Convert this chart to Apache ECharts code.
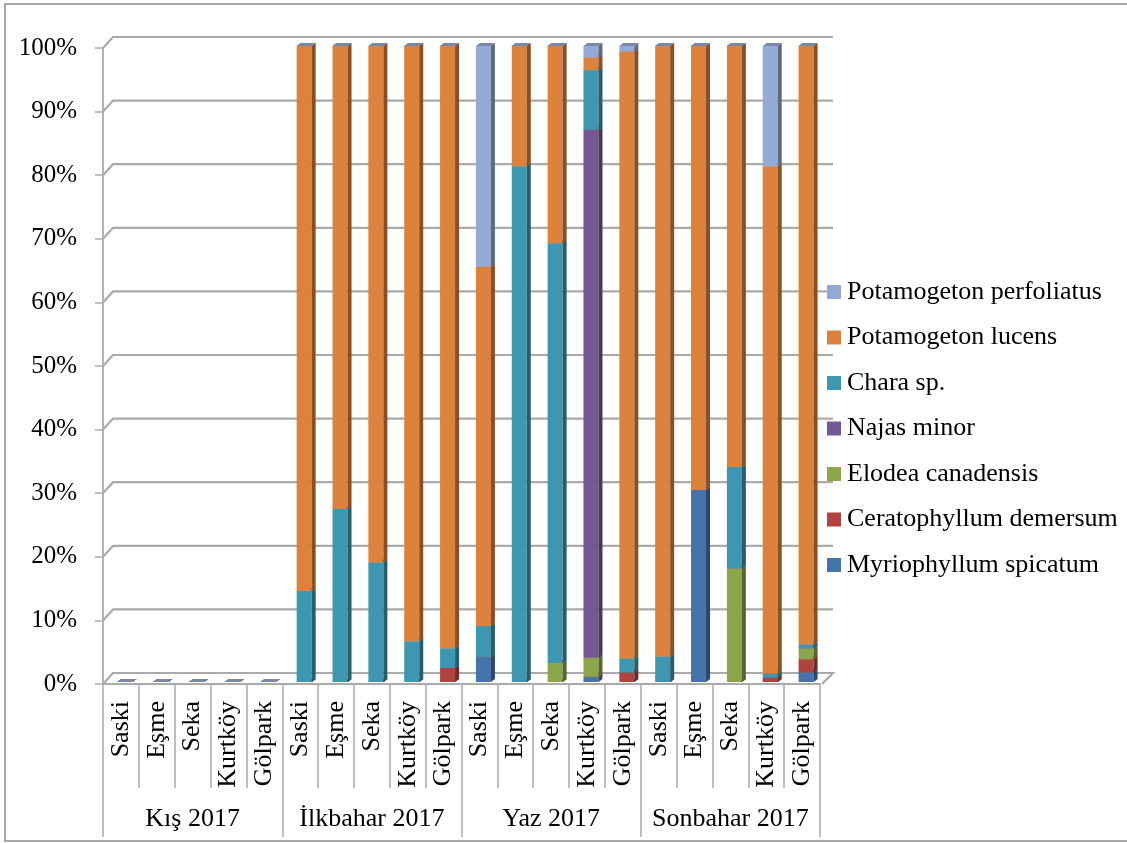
<!DOCTYPE html>
<html>
<head>
<meta charset="utf-8">
<script src="https://cdn.jsdelivr.net/npm/echarts@6/dist/echarts.min.js"></script>
<style>
  html, body { margin: 0; padding: 0; background: #ffffff; }
  #chart { width: 1127px; height: 843px; }
</style>
</head>
<body>
<div id="chart"></div>
<script>
// Sampling stations, repeated for every season
const sites = ['Saski', 'Eşme', 'Seka', 'Kurtköy', 'Gölpark'];
const seasons = ['Kış 2017', 'İlkbahar 2017', 'Yaz 2017', 'Sonbahar 2017'];
const categories = [].concat(sites, sites, sites, sites);
const yTicks = [0, 10, 20, 30, 40, 50, 60, 70, 80, 90, 100];

// Relative share (%) of each species per station, stacked bottom to top
const myriophyllum = [0, 0, 0, 0, 0, 0, 0, 0, 0, 0, 3.9, 0, 0, 0.8, 0, 0, 30.2, 0, 0, 1.5];
const ceratophyllum = [0, 0, 0, 0, 0, 0, 0, 0, 0, 2.2, 0, 0, 0, 0, 1.5, 0, 0, 0, 0.7, 2.1];
const elodea = [0, 0, 0, 0, 0, 0, 0, 0, 0, 0, 0, 0, 3.0, 3.0, 0, 0, 0, 17.9, 0, 1.7];
const najas = [0, 0, 0, 0, 0, 0, 0, 0, 0, 0, 0, 0, 0, 83.0, 0, 0, 0, 0, 0, 0];
const chara = [0, 0, 0, 0, 0, 14.3, 27.2, 18.8, 6.4, 3.1, 4.9, 81.1, 66.0, 9.4, 2.2, 4.0, 0, 15.9, 0.6, 0.6];
const lucens = [0, 0, 0, 0, 0, 85.7, 72.8, 81.2, 93.6, 94.7, 56.5, 18.9, 31.0, 2.0, 95.4, 96.0, 69.8, 66.2, 79.8, 94.1];
const perfoliatus = [0, 0, 0, 0, 0, 0, 0, 0, 0, 0, 34.7, 0, 0, 1.8, 0.9, 0, 0, 0, 18.9, 0];

const speciesNames = ['Myriophyllum spicatum', 'Ceratophyllum demersum', 'Elodea canadensis',
  'Najas minor', 'Chara sp.', 'Potamogeton lucens', 'Potamogeton perfoliatus'];
const speciesValues = [myriophyllum, ceratophyllum, elodea, najas, chara, lucens, perfoliatus];
const speciesColors = ['#4474ab', '#b1433f', '#8ba64b', '#745895', '#3e97b0', '#dc823c', '#95abd5'];

const FONT = 'Liberation Serif';
const GRID_LINE = '#aaaaaa';

function shade(hex, k) {
  const n = parseInt(hex.slice(1), 16);
  const r = Math.round(((n >> 16) & 255) * k);
  const g = Math.round(((n >> 8) & 255) * k);
  const b = Math.round((n & 255) * k);
  return 'rgb(' + r + ',' + g + ',' + b + ')';
}

// Running totals so each segment starts where the one below it ends
const bases = categories.map(() => 0);
const barSeries = speciesNames.map((name, s) => {
  const data = speciesValues[s].map((v, i) => {
    const item = [i, bases[i], v];
    bases[i] += v;
    return item;
  });
  const front = speciesColors[s];
  const side = shade(front, 0.62);
  const top = shade(front, 0.8);
  return {
    name: name,
    type: 'custom',
    coordinateSystem: 'cartesian2d',
    itemStyle: { color: front },
    encode: { x: 0, y: [1, 2] },
    data: data,
    renderItem: function (params, api) {
      const i = api.value(0), base = api.value(1), h = api.value(2);
      const p0 = api.coord([i, base]);
      const p1 = api.coord([i, base + h]);
      const cx = p0[0] + 4, half = 7.5, dx = 4, dy = 3;
      const x0 = cx - half, x1 = cx + half, yb = p0[1] - 2, yt = p1[1] - 2;
      const children = [];
      if (h > 0) {
        children.push({ type: 'rect', shape: { x: x0, y: yt, width: x1 - x0, height: yb - yt },
          style: { fill: front } });
        children.push({ type: 'polygon', shape: { points: [[x1, yb], [x1 + dx, yb - dy], [x1 + dx, yt - dy], [x1, yt]] },
          style: { fill: side } });
      }
      children.push({ type: 'polygon', shape: { points: [[x0, yt], [x1, yt], [x1 + dx, yt - dy], [x0 + dx, yt - dy]] },
        style: { fill: top } });
      return { type: 'group', children: children };
    }
  };
});

// Back wall and floor lines of the box, one per value tick
const wallSeries = {
  name: 'wall',
  type: 'custom',
  coordinateSystem: 'cartesian2d',
  silent: true,
  data: yTicks.map(v => [0, v]),
  renderItem: function (params, api) {
    const y = api.coord([0, api.value(1)])[1];
    const cs = params.coordSys;
    const left = cs.x, right = cs.x + cs.width;
    const pts = api.value(1) === 0
      ? [[left, y], [left + 10, y - 11], [right + 13, y - 11], [right + 2, y]]
      : [[left, y], [left + 10, y - 11], [right + 13, y - 11]];
    return { type: 'polyline', shape: { points: pts },
      style: { stroke: GRID_LINE, lineWidth: 2.2, fill: null } };
  }
};

const chart = echarts.init(document.getElementById('chart'));
chart.setOption({
  animation: false,
  backgroundColor: '#ffffff',
  grid: { left: 103, right: 307, top: 48, bottom: 159, containLabel: false },
  legend: {
    orient: 'vertical',
    left: 822,
    top: 274,
    itemWidth: 14,
    itemHeight: 14,
    itemGap: 19.5,
    icon: 'rect',
    data: speciesNames.slice().reverse(),
    textStyle: { fontFamily: FONT, fontSize: 26, color: '#000000', lineHeight: 26, padding: [0, 0, 0, 1] },
    selectedMode: false
  },
  xAxis: [
    {
      type: 'category',
      data: categories,
      position: 'bottom',
      axisLine: { show: true, lineStyle: { color: GRID_LINE, width: 1.8 } },
      axisTick: { show: true, interval: 0, length: 104, lineStyle: { color: GRID_LINE, width: 1.5 } },
      axisLabel: { interval: 0, rotate: 90, margin: 17, fontFamily: FONT, fontSize: 26, color: '#000000' },
      splitLine: { show: false }
    },
    {
      type: 'category',
      data: seasons,
      position: 'bottom',
      axisLine: { show: false },
      axisTick: { show: true, interval: 0, length: 153, lineStyle: { color: GRID_LINE, width: 1.5 } },
      axisLabel: { interval: 0, margin: 122, fontFamily: FONT, fontSize: 26, color: '#000000' },
      splitLine: { show: false }
    }
  ],
  yAxis: {
    type: 'value',
    min: 0,
    max: 100,
    interval: 10,
    axisLine: { show: true, lineStyle: { color: GRID_LINE, width: 1.8 } },
    axisTick: { show: true, length: 8, lineStyle: { color: GRID_LINE, width: 1.5 } },
    axisLabel: { margin: 26, fontFamily: FONT, fontSize: 25, color: '#000000', formatter: '{value}%' },
    splitLine: { show: false }
  },
  graphic: [
    { type: 'rect', silent: true, z: 100,
      shape: { x: 5, y: 4, width: 1130, height: 837 },
      style: { fill: null, stroke: '#8c8c8c', lineWidth: 1.5 } }
  ],
  series: [wallSeries].concat(barSeries)
});
</script>
</body>
</html>
